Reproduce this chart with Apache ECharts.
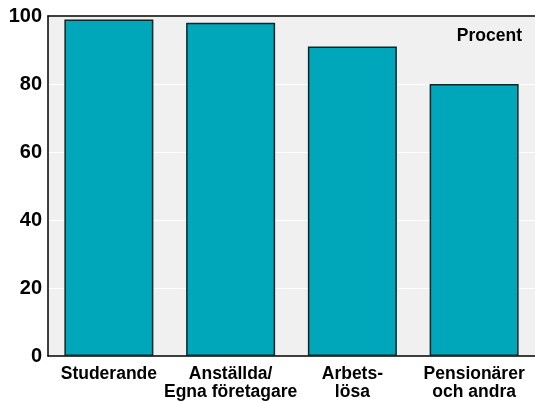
<!DOCTYPE html>
<html>
<head>
<meta charset="utf-8">
<script src="https://cdn.jsdelivr.net/npm/echarts@6/dist/echarts.min.js"></script>
<style>
html,body{margin:0;padding:0;background:#fff;}
#c{width:535px;height:401px;}
</style>
</head>
<body>
<div id="c"></div>
<script>
var categories = ['Studerande', 'Anställda/\nEgna företagare', 'Arbets-\nlösa', 'Pensionärer\noch andra'];
var values = [99, 98, 91, 80];
var unitLabel = 'Procent';

var chart = echarts.init(document.getElementById('c'), null, {renderer: 'canvas'});
var font = 'Liberation Sans, Arial, sans-serif';
chart.setOption({
  animation: false,
  title: {
    text: unitLabel,
    right: 8,
    top: 22,
    textStyle: {fontFamily: font, fontSize: 17.5, fontWeight: 'bold', color: '#000'}
  },
  grid: {
    left: 48, right: -1, top: 16, bottom: 43.5,
    show: true, backgroundColor: '#f0f0f0', borderWidth: 0
  },
  xAxis: [{
    type: 'category',
    data: categories,
    position: 'bottom',
    axisLine: {show: true, lineStyle: {color: '#000', width: 1.5}},
    axisTick: {show: false},
    axisLabel: {fontFamily: font, fontSize: 17.5, fontWeight: 'bold', color: '#000', margin: 9, lineHeight: 18, interval: 0}
  }, {
    type: 'category',
    data: categories,
    position: 'top',
    axisLine: {show: true, lineStyle: {color: '#000', width: 1.5}},
    axisTick: {show: false},
    axisLabel: {show: false}
  }],
  yAxis: {
    type: 'value',
    min: 0, max: 100, interval: 20,
    axisLine: {show: true, lineStyle: {color: '#000', width: 1.5}},
    axisTick: {show: false},
    splitLine: {show: true, lineStyle: {color: '#ffffff', width: 1}},
    axisLabel: {fontFamily: font, fontSize: 20, fontWeight: 'bold', color: '#000', margin: 6}
  },
  series: [{
    type: 'bar',
    data: values,
    barWidth: 89,
    itemStyle: {color: '#00a6b9', borderColor: '#112626', borderWidth: 1.5}
  }]
});
</script>
</body>
</html>
